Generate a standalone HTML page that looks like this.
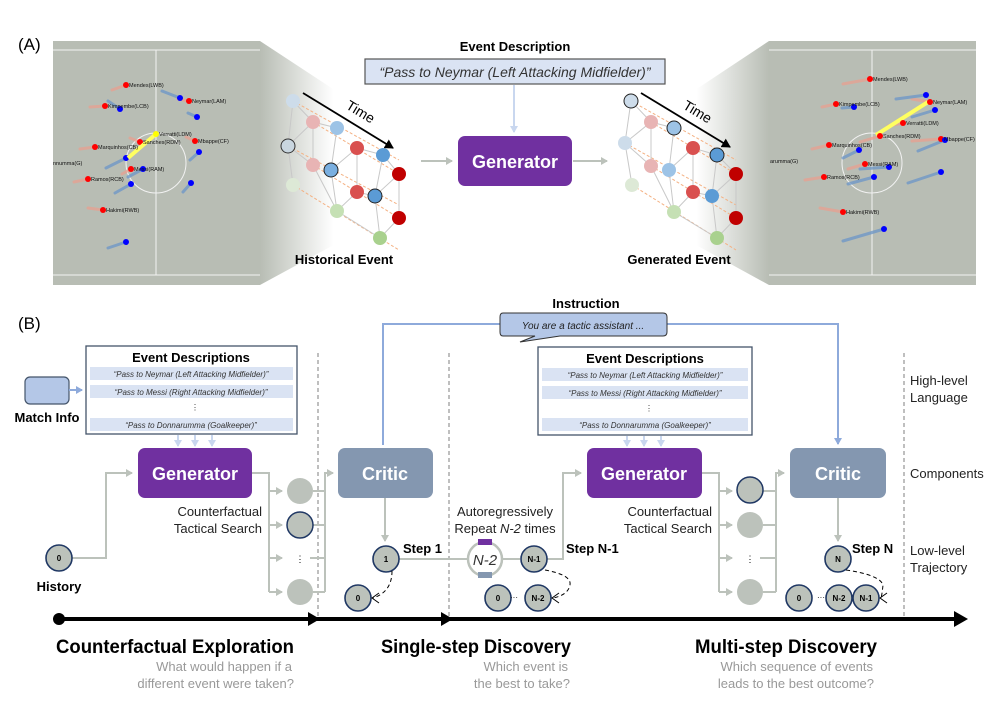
<!DOCTYPE html>
<html><head><meta charset="utf-8"><style>
html,body{margin:0;padding:0;background:#fff}
svg{display:block;font-family:"Liberation Sans",sans-serif}
</style></head><body>
<svg width="997" height="706" viewBox="0 0 997 706" xmlns="http://www.w3.org/2000/svg">
<defs>
<linearGradient id="fl" x1="0" x2="1" y1="0" y2="0"><stop offset="0" stop-color="#b8bdb4"/><stop offset="0.7" stop-color="#fff"/></linearGradient>
<linearGradient id="fr" x1="1" x2="0" y1="0" y2="0"><stop offset="0" stop-color="#b8bdb4"/><stop offset="0.7" stop-color="#fff"/></linearGradient>
<marker id="ag" markerWidth="8" markerHeight="8" refX="6" refY="4" orient="auto" markerUnits="userSpaceOnUse"><path d="M0,0 L7,4 L0,8 z" fill="#bcc2bb"/></marker>
<marker id="ab" markerWidth="8" markerHeight="8" refX="6" refY="4" orient="auto" markerUnits="userSpaceOnUse"><path d="M0,0 L7,4 L0,8 z" fill="#8eaadb"/></marker>
<marker id="al" markerWidth="8" markerHeight="8" refX="6" refY="4" orient="auto" markerUnits="userSpaceOnUse"><path d="M0,0 L7,4 L0,8 z" fill="#c9d7ef"/></marker>
<marker id="ak" markerWidth="10" markerHeight="10" refX="8" refY="5" orient="auto" markerUnits="userSpaceOnUse"><path d="M0,0 L9,5 L0,10 z" fill="#000"/></marker>
</defs>

<text x="18" y="50" font-size="17">(A)</text>
<!-- left pitch -->
<polygon points="260,41 365,110 365,228 260,285" fill="url(#fl)"/>
<rect x="53" y="41" width="207" height="244" fill="#b8bdb4"/>
<g stroke="#f2f2f2" stroke-width="1" fill="none">
<line x1="53" y1="50" x2="260" y2="50"/><line x1="53" y1="275" x2="260" y2="275"/>
<line x1="156" y1="50" x2="156" y2="275"/><circle cx="156" cy="163" r="30"/></g>
<g stroke-width="3" stroke-linecap="round" opacity="0.75">
<g stroke="#e8a090"><line x1="112" y1="90" x2="126" y2="85"/><line x1="90" y1="107" x2="105" y2="106"/><line x1="178" y1="99" x2="189" y2="101"/><line x1="130" y1="138" x2="140" y2="142"/><line x1="186" y1="137" x2="195" y2="141"/><line x1="80" y1="149" x2="95" y2="147"/><line x1="122" y1="174" x2="131" y2="169"/><line x1="74" y1="182" x2="88" y2="179"/><line x1="88" y1="208" x2="103" y2="210"/></g>
<g stroke="#6b95c8"><line x1="162" y1="91" x2="180" y2="98"/><line x1="108" y1="101" x2="120" y2="109"/><line x1="188" y1="113" x2="197" y2="117"/><line x1="106" y1="168" x2="126" y2="158"/><line x1="190" y1="160" x2="199" y2="152"/><line x1="128" y1="177" x2="143" y2="169"/><line x1="115" y1="193" x2="131" y2="184"/><line x1="183" y1="192" x2="191" y2="183"/><line x1="108" y1="248" x2="126" y2="242"/></g></g>
<g font-size="5.5" fill="#111">
<g fill="red">
<circle cx="126" cy="85" r="3"/><circle cx="105" cy="106" r="3"/><circle cx="189" cy="101" r="3"/><circle cx="140" cy="142" r="3"/><circle cx="195" cy="141" r="3"/><circle cx="95" cy="147" r="3"/><circle cx="131" cy="169" r="3"/><circle cx="88" cy="179" r="3"/><circle cx="103" cy="210" r="3"/></g>
<g fill="#00f"><circle cx="180" cy="98" r="3"/><circle cx="120" cy="109" r="3"/><circle cx="197" cy="117" r="3"/><circle cx="126" cy="158" r="3"/><circle cx="199" cy="152" r="3"/><circle cx="143" cy="169" r="3"/><circle cx="131" cy="184" r="3"/><circle cx="191" cy="183" r="3"/><circle cx="126" cy="242" r="3"/></g>
<line x1="128" y1="158" x2="156" y2="134" stroke="#ffff60" stroke-width="4"/><circle cx="156" cy="134" r="3" fill="#ff0"/>
<text x="129" y="87">Mendes(LWB)</text><text x="108" y="108">Kimpembe(LCB)</text><text x="192" y="103">Neymar(LAM)</text><text x="159" y="136">Verratti(LDM)</text><text x="143" y="144">Sanches(RDM)</text><text x="198" y="143">Mbappe(CF)</text><text x="98" y="149">Marquinhos(CB)</text><text x="134" y="171">Messi(RAM)</text><text x="91" y="181">Ramos(RCB)</text><text x="106" y="212">Hakimi(RWB)</text><text x="53" y="165">nnumma(G)</text>
</g>

<!-- right pitch -->
<polygon points="769,41 665,110 665,228 769,285" fill="url(#fr)"/>
<rect x="769" y="41" width="207" height="244" fill="#b8bdb4"/>
<g stroke="#f2f2f2" stroke-width="1" fill="none">
<line x1="769" y1="50" x2="976" y2="50"/><line x1="769" y1="275" x2="976" y2="275"/>
<line x1="872" y1="50" x2="872" y2="275"/><circle cx="872" cy="163" r="30"/></g>
<g stroke-width="3" stroke-linecap="round" opacity="0.75">
<g stroke="#e8a090"><line x1="843" y1="84" x2="870" y2="79"/><line x1="822" y1="107" x2="836" y2="104"/><line x1="912" y1="99" x2="930" y2="102"/><line x1="888" y1="126" x2="903" y2="123"/><line x1="860" y1="142" x2="880" y2="136"/><line x1="912" y1="141" x2="941" y2="139"/><line x1="812" y1="149" x2="829" y2="145"/><line x1="848" y1="169" x2="865" y2="164"/><line x1="805" y1="180" x2="824" y2="177"/><line x1="820" y1="208" x2="843" y2="212"/></g>
<g stroke="#6b95c8"><line x1="896" y1="99" x2="926" y2="95"/><line x1="842" y1="108" x2="854" y2="107"/><line x1="912" y1="117" x2="935" y2="110"/><line x1="843" y1="158" x2="859" y2="150"/><line x1="918" y1="151" x2="945" y2="140"/><line x1="860" y1="169" x2="889" y2="167"/><line x1="848" y1="184" x2="874" y2="177"/><line x1="908" y1="183" x2="941" y2="172"/><line x1="843" y1="241" x2="884" y2="229"/></g></g>
<g font-size="5.5" fill="#111">
<line x1="876" y1="135" x2="928" y2="102" stroke="#ffff60" stroke-width="4"/>
<g fill="red"><circle cx="870" cy="79" r="3"/><circle cx="836" cy="104" r="3"/><circle cx="930" cy="102" r="3"/><circle cx="903" cy="123" r="3"/><circle cx="880" cy="136" r="3"/><circle cx="941" cy="139" r="3"/><circle cx="829" cy="145" r="3"/><circle cx="865" cy="164" r="3"/><circle cx="824" cy="177" r="3"/><circle cx="843" cy="212" r="3"/></g>
<g fill="#00f"><circle cx="926" cy="95" r="3"/><circle cx="854" cy="107" r="3"/><circle cx="935" cy="110" r="3"/><circle cx="859" cy="150" r="3"/><circle cx="945" cy="140" r="3"/><circle cx="889" cy="167" r="3"/><circle cx="874" cy="177" r="3"/><circle cx="941" cy="172" r="3"/><circle cx="884" cy="229" r="3"/></g>
<text x="873" y="81">Mendes(LWB)</text><text x="839" y="106">Kimpembe(LCB)</text><text x="933" y="104">Neymar(LAM)</text><text x="906" y="125">Verratti(LDM)</text><text x="883" y="138">Sanches(RDM)</text><text x="944" y="141">Mbappe(CF)</text><text x="832" y="147">Marquinhos(CB)</text><text x="868" y="166">Messi(RAM)</text><text x="827" y="179">Ramos(RCB)</text><text x="846" y="214">Hakimi(RWB)</text><text x="770" y="163">arumma(G)</text>
</g>

<!-- graphs -->
<g>
<g stroke="#f4b183" stroke-width="1" stroke-dasharray="3,2">
<line x1="293" y1="101" x2="399" y2="160"/><line x1="288" y1="146" x2="399" y2="205"/><line x1="293" y1="185" x2="399" y2="250"/><line x1="313" y1="122" x2="399" y2="174"/><line x1="313" y1="165" x2="399" y2="218"/></g>
<g stroke="#c8c8c8" stroke-width="1" fill="none">
<polyline points="293,101 288,146 293,185"/><polyline points="313,122 313,165"/><polyline points="293,101 313,122 337,128"/><polyline points="288,146 313,165 337,211"/><polyline points="313,122 288,146"/><polyline points="337,128 331,170 337,211 357,192 375,196 380,238 399,218 399,174 383,155 357,148 331,170"/><polyline points="357,148 357,192"/><polyline points="375,196 383,155"/><polyline points="375,196 399,174"/><polyline points="337,211 380,238"/></g>
<circle cx="293" cy="101" r="7" fill="#cddcea"/><circle cx="313" cy="122" r="7" fill="#e8b4b4"/><circle cx="337" cy="128" r="7" fill="#9dc3e6"/>
<circle cx="288" cy="146" r="7" fill="#c9d6df" stroke="#333"/><circle cx="313" cy="165" r="7" fill="#e8b4b4"/><circle cx="331" cy="170" r="7" fill="#7aafe0" stroke="#222"/>
<circle cx="357" cy="148" r="7" fill="#d9504f"/><circle cx="383" cy="155" r="7" fill="#5b9bd5"/><circle cx="399" cy="174" r="7" fill="#c00000"/>
<circle cx="293" cy="185" r="7" fill="#dde9d6"/><circle cx="357" cy="192" r="7" fill="#d9504f"/><circle cx="375" cy="196" r="7" fill="#5b9bd5" stroke="#222"/>
<circle cx="399" cy="218" r="7" fill="#c00000"/><circle cx="337" cy="211" r="7" fill="#c5e0b4"/><circle cx="380" cy="238" r="7" fill="#a9d18e"/>
<line x1="303" y1="93" x2="393" y2="148" stroke="#000" stroke-width="1.8" marker-end="url(#ak)"/>
<text x="0" y="0" font-size="14" transform="translate(345,108) rotate(31)">Time</text>
</g>
<g>
<g stroke="#f4b183" stroke-width="1" stroke-dasharray="3,2">
<line x1="631" y1="101" x2="736" y2="160"/><line x1="625" y1="143" x2="736" y2="205"/><line x1="632" y1="185" x2="736" y2="250"/><line x1="651" y1="122" x2="736" y2="174"/><line x1="651" y1="166" x2="736" y2="218"/></g>
<g stroke="#c8c8c8" stroke-width="1" fill="none">
<polyline points="631,101 625,143 632,185"/><polyline points="651,122 651,166"/><polyline points="631,101 651,122 674,128"/><polyline points="625,143 651,166 674,212"/><polyline points="651,122 625,143"/><polyline points="674,128 669,170 674,212 693,192 712,196 717,238 736,218 736,174 717,155 693,148 669,170"/><polyline points="693,148 693,192"/><polyline points="712,196 717,155"/><polyline points="712,196 736,174"/><polyline points="674,212 717,238"/></g>
<circle cx="631" cy="101" r="7" fill="#cddcea" stroke="#222"/><circle cx="651" cy="122" r="7" fill="#e8b4b4"/><circle cx="674" cy="128" r="7" fill="#9dc3e6" stroke="#222"/>
<circle cx="625" cy="143" r="7" fill="#cddcea"/><circle cx="651" cy="166" r="7" fill="#e8b4b4"/><circle cx="669" cy="170" r="7" fill="#9dc3e6"/>
<circle cx="693" cy="148" r="7" fill="#d9504f"/><circle cx="717" cy="155" r="7" fill="#5b9bd5" stroke="#222"/><circle cx="736" cy="174" r="7" fill="#c00000"/>
<circle cx="632" cy="185" r="7" fill="#dde9d6"/><circle cx="693" cy="192" r="7" fill="#d9504f"/><circle cx="712" cy="196" r="7" fill="#5b9bd5"/>
<circle cx="736" cy="218" r="7" fill="#c00000"/><circle cx="674" cy="212" r="7" fill="#c5e0b4"/><circle cx="717" cy="238" r="7" fill="#a9d18e"/>
<line x1="641" y1="93" x2="730" y2="147" stroke="#000" stroke-width="1.8" marker-end="url(#ak)"/>
<text x="0" y="0" font-size="14" transform="translate(682,108) rotate(31)">Time</text>
</g>
<text x="344" y="264" font-size="13" font-weight="bold" text-anchor="middle">Historical Event</text>
<text x="679" y="264" font-size="13" font-weight="bold" text-anchor="middle">Generated Event</text>

<text x="515" y="51" font-size="13" font-weight="bold" text-anchor="middle">Event Description</text>
<rect x="365" y="59" width="300" height="25" fill="#dae3f3" stroke="#555" stroke-width="1.2"/>
<text x="515" y="77" font-size="14" font-style="italic" text-anchor="middle" fill="#333">“Pass to Neymar (Left Attacking Midfielder)”</text>
<line x1="514" y1="85" x2="514" y2="132" stroke="#c9d7ef" stroke-width="2" marker-end="url(#al)"/>
<rect x="458" y="136" width="114" height="50" rx="7" fill="#7030a0"/>
<text x="515" y="168" font-size="18" font-weight="bold" fill="#fff" text-anchor="middle">Generator</text>
<line x1="421" y1="161" x2="452" y2="161" stroke="#bcc2bb" stroke-width="2" marker-end="url(#ag)"/>
<line x1="573" y1="161" x2="607" y2="161" stroke="#bcc2bb" stroke-width="2" marker-end="url(#ag)"/>

<!-- Panel B -->
<text x="18" y="329" font-size="17">(B)</text>
<g stroke="#7f7f7f" stroke-width="1" stroke-dasharray="4,3"><line x1="318" y1="353" x2="318" y2="616"/><line x1="449" y1="353" x2="449" y2="616"/><line x1="904" y1="353" x2="904" y2="616"/></g>

<text x="586" y="308" font-size="13" font-weight="bold" text-anchor="middle">Instruction</text>
<polyline points="383,445 383,324 500,324" fill="none" stroke="#8eaadb" stroke-width="2"/>
<polyline points="667,324 838,324 838,444" fill="none" stroke="#8eaadb" stroke-width="2" marker-end="url(#ab)"/>
<path d="M503,313 H663 Q667,313 667,317 V332 Q667,336 663,336 H560 L520,342 L535,336 H503 Q500,336 500,332 V317 Q500,313 503,313 Z" fill="#b4c7e7" stroke="#333" stroke-width="1"/>
<text x="583" y="329" font-size="10" font-style="italic" text-anchor="middle" fill="#222">You are a tactic assistant ...</text>

<!-- desc boxes -->
<g font-style="italic" font-size="8" fill="#333" text-anchor="middle">
<rect x="86" y="346" width="211" height="88" fill="#fff" stroke="#44546a" stroke-width="1.3"/>
<text x="191" y="362" font-size="13" font-weight="bold" font-style="normal" fill="#000">Event Descriptions</text>
<rect x="90" y="367" width="203" height="13" fill="#dae3f3"/><text x="191" y="377">“Pass to Neymar (Left Attacking Midfielder)”</text>
<rect x="90" y="385" width="203" height="13" fill="#dae3f3"/><text x="191" y="395">“Pass to Messi (Right Attacking Midfielder)”</text>
<text x="195" y="410" font-style="normal">⋮</text>
<rect x="90" y="418" width="203" height="13" fill="#dae3f3"/><text x="191" y="428">“Pass to Donnarumma (Goalkeeper)”</text>
<rect x="538" y="347" width="214" height="88" fill="#fff" stroke="#44546a" stroke-width="1.3"/>
<text x="645" y="363" font-size="13" font-weight="bold" font-style="normal" fill="#000">Event Descriptions</text>
<rect x="542" y="368" width="206" height="13" fill="#dae3f3"/><text x="645" y="378">“Pass to Neymar (Left Attacking Midfielder)”</text>
<rect x="542" y="386" width="206" height="13" fill="#dae3f3"/><text x="645" y="396">“Pass to Messi (Right Attacking Midfielder)”</text>
<text x="649" y="411" font-style="normal">⋮</text>
<rect x="542" y="418" width="206" height="13" fill="#dae3f3"/><text x="645" y="428">“Pass to Donnarumma (Goalkeeper)”</text>
</g>
<g stroke="#c9d7ef" stroke-width="2"><line x1="178" y1="435" x2="178" y2="446" marker-end="url(#al)"/><line x1="195" y1="435" x2="195" y2="446" marker-end="url(#al)"/><line x1="212" y1="435" x2="212" y2="446" marker-end="url(#al)"/>
<line x1="627" y1="436" x2="627" y2="446" marker-end="url(#al)"/><line x1="644" y1="436" x2="644" y2="446" marker-end="url(#al)"/><line x1="661" y1="436" x2="661" y2="446" marker-end="url(#al)"/></g>
<rect x="25" y="377" width="44" height="27" rx="5" fill="#b4c7e7" stroke="#44546a" stroke-width="1.2"/>
<line x1="69" y1="390" x2="82" y2="390" stroke="#8eaadb" stroke-width="2" marker-end="url(#ab)"/>
<text x="47" y="422" font-size="13" font-weight="bold" text-anchor="middle">Match Info</text>

<!-- boxes -->
<rect x="138" y="448" width="114" height="50" rx="7" fill="#7030a0"/>
<text x="195" y="480" font-size="18" font-weight="bold" fill="#fff" text-anchor="middle">Generator</text>
<rect x="338" y="448" width="95" height="50" rx="7" fill="#8497b0"/>
<text x="385" y="480" font-size="18" font-weight="bold" fill="#fff" text-anchor="middle">Critic</text>
<rect x="587" y="448" width="115" height="50" rx="7" fill="#7030a0"/>
<text x="644" y="480" font-size="18" font-weight="bold" fill="#fff" text-anchor="middle">Generator</text>
<rect x="790" y="448" width="96" height="50" rx="7" fill="#8497b0"/>
<text x="838" y="480" font-size="18" font-weight="bold" fill="#fff" text-anchor="middle">Critic</text>

<!-- gray connectors -->
<g fill="none" stroke="#bcc2bb" stroke-width="2">
<polyline points="72,558 106,558 106,473 132,473" marker-end="url(#ag)"/>
<polyline points="252,473 269,473 269,592"/>
<line x1="269" y1="491" x2="282" y2="491" marker-end="url(#ag)"/><line x1="269" y1="525" x2="282" y2="525" marker-end="url(#ag)"/><line x1="269" y1="558" x2="282" y2="558" marker-end="url(#ag)"/><line x1="269" y1="592" x2="282" y2="592" marker-end="url(#ag)"/>
<polyline points="313,491 325,491"/><polyline points="313,525 325,525"/><polyline points="313,592 325,592"/><line x1="310" y1="558" x2="325" y2="558"/>
<polyline points="325,592 325,473 333,473" marker-end="url(#ag)"/>
<line x1="385" y1="498" x2="385" y2="541" marker-end="url(#ag)"/>
<line x1="399" y1="559" x2="467" y2="559"/><line x1="502" y1="559" x2="520" y2="559"/>
<polyline points="547,559 563,559 563,473 581,473" marker-end="url(#ag)"/>
<polyline points="702,473 719,473 719,592"/>
<line x1="719" y1="491" x2="732" y2="491" marker-end="url(#ag)"/><line x1="719" y1="525" x2="732" y2="525" marker-end="url(#ag)"/><line x1="719" y1="558" x2="732" y2="558" marker-end="url(#ag)"/><line x1="719" y1="592" x2="732" y2="592" marker-end="url(#ag)"/>
<line x1="763" y1="491" x2="776" y2="491"/><line x1="763" y1="525" x2="776" y2="525"/><line x1="760" y1="558" x2="776" y2="558"/><line x1="763" y1="592" x2="776" y2="592"/>
<polyline points="776,592 776,473 784,473" marker-end="url(#ag)"/>
<line x1="838" y1="498" x2="838" y2="541" marker-end="url(#ag)"/>
</g>
<g fill="#bcc2bb"><circle cx="300" cy="491" r="13"/><circle cx="300" cy="525" r="13" stroke="#203864" stroke-width="1.5"/><circle cx="300" cy="592" r="13"/>
<circle cx="750" cy="490" r="13" stroke="#203864" stroke-width="1.5"/><circle cx="750" cy="525" r="13"/><circle cx="750" cy="592" r="13"/></g>
<text x="300" y="562" font-size="9" text-anchor="middle">⋮</text><text x="750" y="562" font-size="9" text-anchor="middle">⋮</text>

<!-- cycle -->
<circle cx="485" cy="559" r="17" fill="none" stroke="#bcc2bb" stroke-width="2.5"/>
<rect x="478" y="539" width="14" height="6" fill="#7030a0"/><rect x="478" y="572" width="14" height="6" fill="#8497b0"/>
<text x="485" y="565" font-size="15" font-style="italic" text-anchor="middle" fill="#333">N-2</text>

<!-- nodes -->
<g fill="#bcc2bb" stroke="#203864" stroke-width="1.6">
<circle cx="59" cy="558" r="13"/><circle cx="386" cy="559" r="13"/><circle cx="358" cy="598" r="13"/>
<circle cx="534" cy="559" r="13"/><circle cx="498" cy="598" r="13"/><circle cx="538" cy="598" r="13"/>
<circle cx="838" cy="559" r="13"/><circle cx="799" cy="598" r="13"/><circle cx="839" cy="598" r="13"/><circle cx="866" cy="598" r="13"/></g>
<g font-size="8" font-weight="bold" text-anchor="middle">
<text x="59" y="561">0</text><text x="386" y="562">1</text><text x="358" y="601">0</text><text x="534" y="562">N-1</text><text x="498" y="601">0</text><text x="538" y="601">N-2</text><text x="838" y="562">N</text><text x="799" y="601">0</text><text x="839" y="601">N-2</text><text x="866" y="601">N-1</text></g>
<text x="514" y="600" font-size="8" text-anchor="middle">···</text><text x="821" y="600" font-size="8" text-anchor="middle">···</text>
<g fill="none" stroke="#000" stroke-width="1" stroke-dasharray="4,3">
<path d="M392,571 Q392,592 373,598"/>
<path d="M545,570 Q572,575 570,585 Q568,595 553,598"/>
<path d="M846,570 Q880,575 883,585 Q882,595 881,598"/></g>
<g fill="none" stroke="#000" stroke-width="1">
<path d="M379,593 L372,598 L379,603"/><path d="M559,593 L552,598 L559,603"/><path d="M887,593 L880,598 L887,603"/></g>

<g font-size="13" font-weight="bold"><text x="403" y="553">Step 1</text><text x="566" y="553">Step N-1</text><text x="852" y="553">Step N</text><text x="59" y="591" text-anchor="middle">History</text></g>
<g font-size="13" fill="#222">
<text x="262" y="516" text-anchor="end">Counterfactual</text><text x="262" y="533" text-anchor="end">Tactical Search</text>
<text x="712" y="516" text-anchor="end">Counterfactual</text><text x="712" y="533" text-anchor="end">Tactical Search</text>
<text x="505" y="516" text-anchor="middle">Autoregressively</text><text x="505" y="533" text-anchor="middle">Repeat <tspan font-style="italic">N-2</tspan> times</text>
<text x="910" y="385">High-level</text><text x="910" y="402">Language</text><text x="910" y="478">Components</text><text x="910" y="555">Low-level</text><text x="910" y="572">Trajectory</text>
</g>

<!-- timeline -->
<circle cx="59" cy="619" r="6" fill="#000"/>
<line x1="59" y1="619" x2="960" y2="619" stroke="#000" stroke-width="4"/>
<path d="M308,612 L320,619 L308,626 z M441,612 L453,619 L441,626 z M954,611 L968,619 L954,627 z" fill="#000"/>
<g font-family="'Liberation Sans Narrow','Liberation Sans',sans-serif">
<text x="175" y="653" font-size="19" font-weight="bold" text-anchor="middle" textLength="238" lengthAdjust="spacingAndGlyphs">Counterfactual Exploration</text>
<text x="476" y="653" font-size="19" font-weight="bold" text-anchor="middle" textLength="190" lengthAdjust="spacingAndGlyphs">Single-step Discovery</text>
<text x="786" y="653" font-size="19" font-weight="bold" text-anchor="middle" textLength="182" lengthAdjust="spacingAndGlyphs">Multi-step Discovery</text>
<g font-size="13" fill="#999" text-anchor="end">
<text x="292" y="671">What would happen if a</text><text x="294" y="688">different event were taken?</text>
<text x="568" y="671">Which event is</text><text x="570" y="688">the best to take?</text>
<text x="873" y="671">Which sequence of events</text><text x="874" y="688">leads to the best outcome?</text></g></g>
</svg>
</body></html>
